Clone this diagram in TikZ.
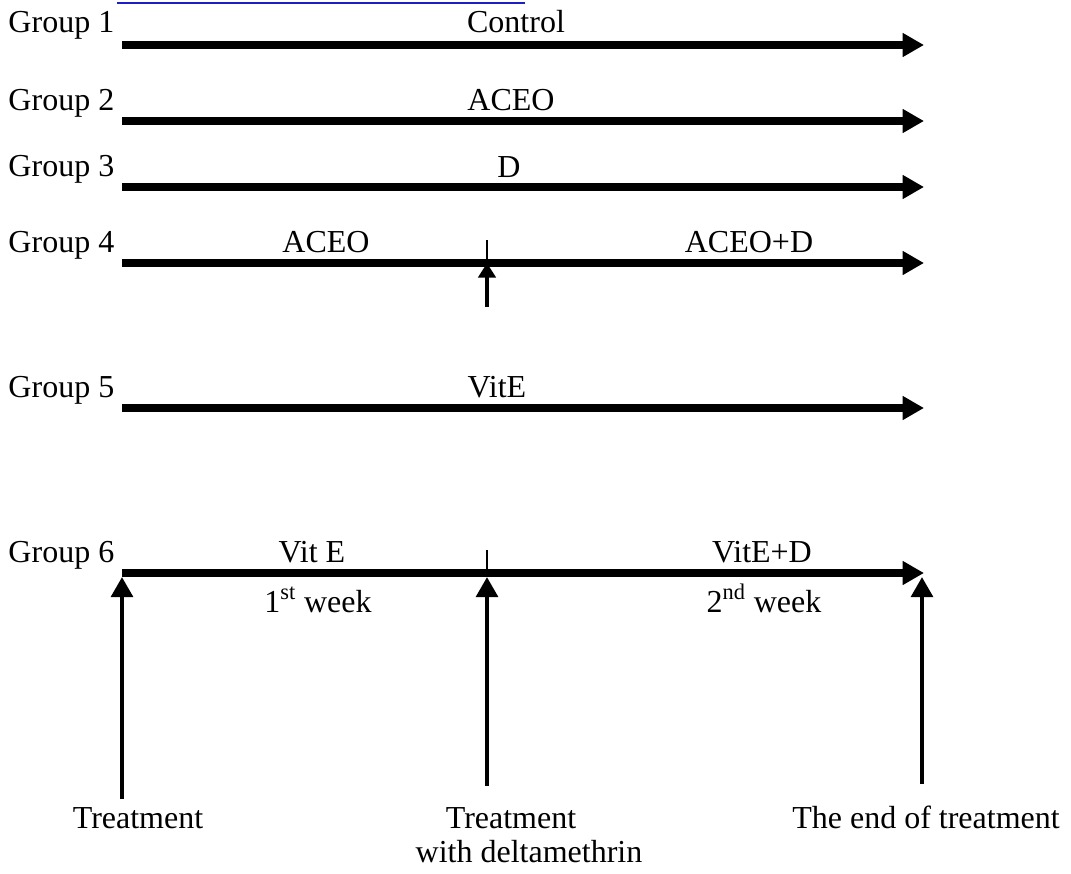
\documentclass[tikz,border=0pt]{standalone}
\usepackage{fontspec}
\setmainfont{Liberation Serif}
\usetikzlibrary{arrows.meta}

\tikzset{every picture/.style={line width=0.75pt}}
\tikzset{
  lbl/.style={inner sep=0pt, anchor=base, font=\fontsize{24}{29}\selectfont},
  grp/.style={lbl, anchor=base west},
  timeline/.style={line width=5.5pt, -{Triangle[length=16pt,width=17pt]}},
  uparrow/.style={line width=3.5pt, -{Triangle[length=15pt,width=16pt]}},
  smallarrow/.style={line width=3pt, -{Triangle[length=11pt,width=13pt]}},
  tickline/.style={line width=1.5pt}
}

\begin{document}
\begin{tikzpicture}[x=0.75pt,y=0.75pt,yscale=-1,xscale=1]
\useasboundingbox (0,0) rectangle (1071,874);

%Straight Lines [link underline]
\coordinate (ul1) at (117,3);
\coordinate (ul2) at (525,3);
\draw [color={rgb, 255:red, 30; green, 30; blue, 200 }, line width=1.5pt] (ul1) -- (ul2);

%Timelines: start and end points
\coordinate (s1) at (122,45);  \coordinate (e1) at (924,45);
\coordinate (s2) at (122,121); \coordinate (e2) at (924,121);
\coordinate (s3) at (122,187); \coordinate (e3) at (924,187);
\coordinate (s4) at (122,263); \coordinate (e4) at (924,263);
\coordinate (s5) at (122,408); \coordinate (e5) at (924,408);
\coordinate (s6) at (122,573); \coordinate (e6) at (924,573);

\draw [timeline] (s1) -- (e1);
\draw [timeline] (s2) -- (e2);
\draw [timeline] (s3) -- (e3);
\draw [timeline] (s4) -- (e4);
\draw [timeline] (s5) -- (e5);
\draw [timeline] (s6) -- (e6);

% Group labels
\node (g1) [grp] at (8,33) {Group 1};
\node (g2) [grp] at (8,110) {Group 2};
\node (g3) [grp] at (8,176) {Group 3};
\node (g4) [grp] at (8,252) {Group 4};
\node (g5) [grp] at (8,397) {Group 5};
\node (g6) [grp] at (8,562) {Group 6};

% Treatment labels
\node (control) [lbl] at (516,33) {Control};
\node (aceo2) [lbl] at (511,110) {ACEO};
\node (d3) [lbl] at (509,177) {D};
\node (aceo4) [lbl] at (326,252) {ACEO};
\node (aceod4) [lbl] at (749,252) {ACEO+D};
\node (vite5) [lbl] at (497,397) {VitE};
\node (vite6) [lbl] at (312,562) {Vit E};
\node (vited6) [lbl] at (762,562) {VitE+D};

% Week labels
\node (wk1) [lbl] at (318,612) {1\textsuperscript{st} week};
\node (wk2) [lbl] at (764,612) {2\textsuperscript{nd} week};

%Group 4 mark
\coordinate (t4top) at (487,240);
\coordinate (t4) at (487,263);
\coordinate (a4) at (487,307);
\draw [tickline] (t4top) -- (t4);
\draw [smallarrow] (a4) -- (t4);

%Group 6 tick
\coordinate (t6top) at (487,550);
\coordinate (t6mid) at (487,573);
\coordinate (t6) at (487,577);
\coordinate (t6end) at (922,577);
\coordinate (t6start) at (122,577);
\draw [tickline] (t6top) -- (t6mid);

% Bottom labels
\node (start) [lbl] at (138,828) {Treatment};
\node (delta) [lbl] at (511,828) {Treatment};
\node (delta2) [lbl] at (529,862) {with deltamethrin};
\node (finish) [lbl] at (926,828) {The end of treatment};

%Vertical arrows
\coordinate (b1) at (122,799);
\coordinate (b2) at (487,786);
\coordinate (b3) at (922,784);
\draw [uparrow] (b1) -- (t6start);
\draw [uparrow] (b2) -- (t6);
\draw [uparrow] (b3) -- (t6end);

\end{tikzpicture}
\end{document}
